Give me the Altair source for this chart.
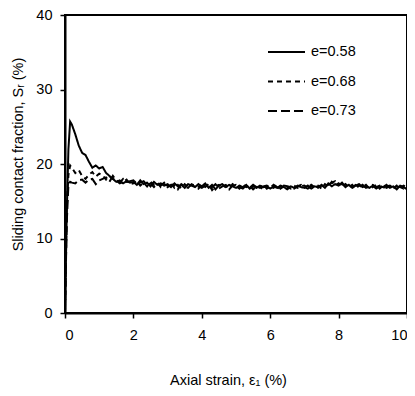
import altair as alt
import pandas as pd

# strain grid (%)
strain_early = [0, 0.05, 0.1, 0.15, 0.2, 0.3, 0.4, 0.5, 0.6, 0.7, 0.8, 0.9, 1.0,
                1.1, 1.2, 1.3, 1.4, 1.5, 1.6, 1.7, 1.8, 1.9]
strain_late = [round(2.0 + 0.1 * i, 1) for i in range(81)]

e058_early = [0, 13, 22, 25.7, 25.3, 24, 22.5, 21.5, 21.2, 20.3, 19.5, 19.8, 19.4,
              19.6, 18.8, 18.4, 18.0, 17.6, 17.8, 17.4, 17.7, 17.5]
e068_early = [0, 14, 18.5, 19.8, 19.5, 18.8, 19.2, 18.4, 18.0, 18.6, 18.9, 18.3, 18.7,
              18.5, 17.9, 18.3, 18.0, 17.8, 17.4, 17.6, 17.9, 17.3]
e073_early = [0, 12, 17.2, 17.6, 17.5, 17.4, 17.8, 17.9, 17.5, 17.9, 18.0, 17.3, 17.8,
              18.0, 18.2, 17.6, 18.4, 17.8, 17.5, 18.0, 17.6, 17.7]

e058_late = [17.6, 17.2, 17.8, 17.3, 17.5, 17.0, 17.6, 17.2, 17.4, 17.1,
             17.3, 16.9, 17.4, 17.0, 17.2, 16.8, 17.3, 17.1, 16.9, 17.3,
             17.0, 17.4, 16.8, 17.2, 16.6, 17.1, 17.3, 16.9, 17.2, 17.0,
             16.8, 17.1, 16.9, 17.2, 16.7, 17.0, 16.8, 17.1, 16.9, 17.0,
             16.7, 17.0, 16.8, 17.1, 16.9, 16.6, 17.0, 16.8, 17.1, 16.9,
             16.8, 17.1, 16.7, 17.0, 16.9, 17.2, 16.8, 17.4, 17.0, 17.3,
             17.1, 17.5, 16.9, 17.2, 16.8, 17.1, 17.3, 16.9, 17.0, 16.8,
             17.1, 16.7, 17.0, 16.9, 17.2, 16.8, 17.0, 16.6, 17.1, 16.9,
             16.6]
e068_late = [17.4, 17.7, 17.1, 17.5, 17.0, 17.6, 17.2, 17.5, 16.9, 17.3,
             17.1, 17.4, 16.8, 17.2, 16.7, 17.3, 16.9, 17.2, 17.0, 16.7,
             17.2, 16.9, 17.3, 16.5, 17.0, 17.2, 16.8, 17.1, 16.7, 17.3,
             17.0, 16.7, 17.2, 16.9, 17.1, 16.6, 17.0, 16.8, 17.2, 16.7,
             17.0, 16.8, 17.2, 16.7, 17.0, 16.9, 16.7, 17.1, 16.8, 17.0,
             17.1, 16.8, 17.2, 16.9, 17.1, 16.7, 17.3, 17.0, 17.6, 17.1,
             17.4, 17.0, 17.3, 16.9, 17.2, 16.7, 17.1, 16.9, 17.2, 16.7,
             16.9, 17.2, 16.7, 17.1, 16.8, 17.0, 16.7, 17.1, 16.8, 17.1,
             16.8]
e073_late = [17.8, 17.3, 17.5, 17.7, 17.2, 17.4, 16.9, 17.4, 17.1, 17.5,
             16.9, 17.2, 17.1, 16.6, 17.3, 17.0, 16.8, 17.3, 17.1, 17.0,
             16.8, 17.1, 17.0, 16.9, 17.3, 16.7, 17.0, 17.2, 16.6, 17.1,
             17.2, 16.9, 16.7, 17.1, 16.8, 17.2, 16.9, 16.6, 17.0, 17.1,
             16.8, 17.2, 16.9, 16.6, 17.1, 17.0, 16.9, 16.7, 17.0, 17.2,
             16.9, 16.7, 17.0, 17.2, 16.8, 17.1, 17.0, 17.2, 17.5, 17.7,
             17.2, 17.3, 17.0, 17.1, 16.9, 17.2, 16.9, 17.2, 16.8, 17.0,
             17.2, 16.9, 17.1, 16.8, 17.0, 17.1, 16.8, 17.0, 16.9, 16.7,
             17.1]

series_names = ["e=0.58", "e=0.68", "e=0.73"]
series_dashes = [[1, 0], [5, 4], [9, 4]]
series_values = [e058_early + e058_late, e068_early + e068_late, e073_early + e073_late]
strain = strain_early + strain_late

rows = []
for name, vals in zip(series_names, series_values):
    for i, (x, y) in enumerate(zip(strain, vals)):
        rows.append({"series": name, "strain": x, "sr": y, "order": i})
df = pd.DataFrame(rows)

FONT = "Liberation Sans"
FS = 14.5

lines = alt.Chart(df).mark_line(color="black", strokeWidth=2).encode(
    x=alt.X("strain:Q", scale=alt.Scale(domain=[0, 10], nice=False),
            axis=alt.Axis(values=[0, 2, 4, 6, 8, 10], title="Axial strain, ε₁ (%)",
                          titlePadding=32, labelPadding=10, titleX=163)),
    y=alt.Y("sr:Q", scale=alt.Scale(domain=[0, 40], nice=False),
            axis=alt.Axis(values=[0, 10, 20, 30, 40], title="Sliding contact fraction, Sᵣ (%)",
                          titlePadding=10, labelPadding=8, titleY=139)),
    order="order:Q",
    strokeDash=alt.StrokeDash("series:N",
                              scale=alt.Scale(domain=series_names, range=series_dashes),
                              legend=None),
)

# hand-placed legend inside the plot (top right), one datum per mark
one = pd.DataFrame({"k": [0]})
legend_layers = []
for k, (name, dash) in enumerate(zip(series_names, series_dashes)):
    ypix = 37 + 29.5 * k
    legend_layers.append(
        alt.Chart(one).mark_rule(color="black", strokeWidth=2, strokeDash=dash).encode(
            x=alt.value(203), x2=alt.value(240), y=alt.value(ypix))
    )
    legend_layers.append(
        alt.Chart(one).mark_text(align="left", baseline="middle", font=FONT,
                                 fontSize=FS, color="black").encode(
            x=alt.value(246), y=alt.value(ypix), text=alt.value(name))
    )

chart = alt.layer(lines, *legend_layers).properties(
    width=342, height=298,
    autosize=alt.AutoSizeParams(type="none"),
    padding={"left": 57, "top": 7, "right": 0, "bottom": 75},
).configure_view(
    stroke="black", strokeWidth=2
).configure_axis(
    grid=False, domainColor="black", domainWidth=2, tickColor="black", tickWidth=1.5,
    tickSize=5, labelFont=FONT, labelFontSize=FS, labelColor="black",
    titleFont=FONT, titleFontSize=FS, titleFontWeight="normal", titleColor="black"
)

chart.save("out.html", embed_options={"renderer": "svg", "actions": False})
